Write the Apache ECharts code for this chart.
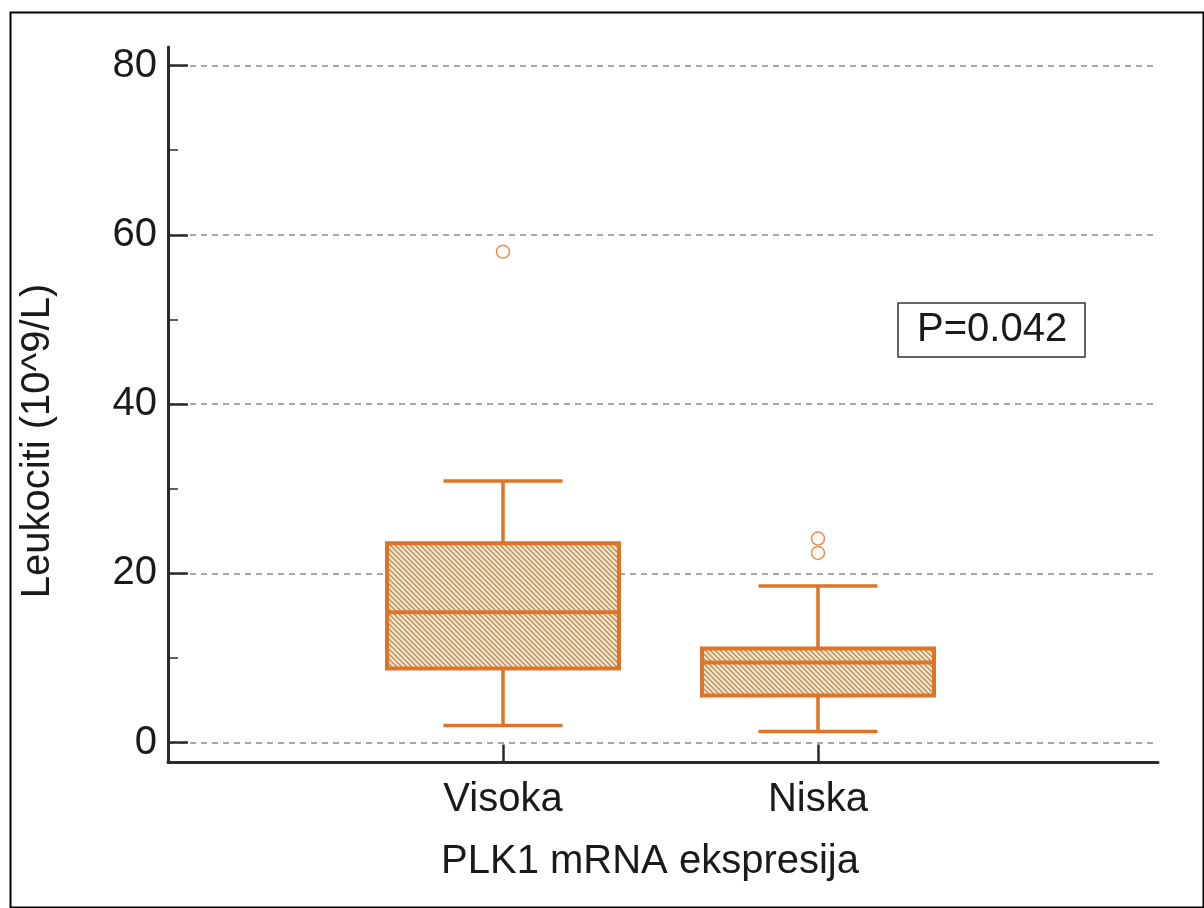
<!DOCTYPE html>
<html>
<head>
<meta charset="utf-8">
<script src="https://cdn.jsdelivr.net/npm/echarts@6/dist/echarts.min.js"></script>
<style>
html,body{margin:0;padding:0;background:#fff;}
#chart{width:1204px;height:908px;}
</style>
</head>
<body>
<div id="chart"></div>
<script>
// ---- data ----
const categories = ['Visoka', 'Niska'];
const catPos = [1, 2];
const whiskerLow = [2.0, 1.3];
const q1 = [8.75, 5.55];
const median = [15.4, 9.45];
const q3 = [23.55, 11.1];
const whiskerHigh = [30.9, 18.5];
const outlierCat = [1, 2, 2];
const outlierVal = [58.0, 24.1, 22.4];
const yMin = 0, yMax = 80, yInterval = 20;
const pText = 'P=0.042';
const xName = 'PLK1 mRNA ekspresija';
const yName = 'Leukociti (10^9/L)';

// ---- styles ----
const ORANGE = '#DD7428';
const AXIS = '#2b2b2b';
const FONT = 'Liberation Sans, Arial, sans-serif';

function hatchPattern() {
  const s = 5;
  const c = document.createElement('canvas');
  c.width = s; c.height = s;
  const ctx = c.getContext('2d');
  ctx.fillStyle = '#FBE6C6';
  ctx.fillRect(0, 0, s, s);
  ctx.strokeStyle = '#B08E68';
  ctx.lineWidth = 1.4;
  ctx.beginPath();
  ctx.moveTo(-1, -1); ctx.lineTo(s + 1, s + 1);
  ctx.moveTo(-1, s - 1); ctx.lineTo(1, s + 1);
  ctx.moveTo(s - 1, -1); ctx.lineTo(s + 1, 1);
  ctx.stroke();
  return c;
}
const pattern = { image: hatchPattern(), repeat: 'repeat' };

const boxData = categories.map((c, i) => [catPos[i], whiskerLow[i], q1[i], median[i], q3[i], whiskerHigh[i]]);
const outlierData = outlierCat.map((c, i) => [c, outlierVal[i]]);

const chart = echarts.init(document.getElementById('chart'), null, { renderer: 'canvas' });

const xMin = -0.0635, xMax = 3.0794;

const option = {
  backgroundColor: '#fff',
  animation: false,
  textStyle: { fontFamily: FONT },
  title: {
    text: pText,
    left: 898, top: 303,
    padding: [6, 18, 6, 19],
    borderColor: '#333', borderWidth: 1.5,
    textStyle: { fontFamily: FONT, fontSize: 40, fontWeight: 'normal', color: '#1a1a1a', lineHeight: 42 }
  },
  graphic: [{
    type: 'rect', left: 8, top: 10, z: 100,
    shape: { width: 1193, height: 895 },
    style: { fill: 'none', stroke: '#000', lineWidth: 2 }
  }],
  grid: [
    { left: 168, right: 46, top: 47, bottom: 146 },
    { left: 168, right: 46, top: 65.5, bottom: 165.5 }
  ],
  xAxis: [
    {
      gridIndex: 0, type: 'value', min: 0, max: 1, position: 'bottom',
      axisLine: { show: true, onZero: false, lineStyle: { color: AXIS, width: 3 } },
      axisTick: { show: false }, axisLabel: { show: false }, splitLine: { show: false }
    },
    {
      gridIndex: 1, type: 'value', min: xMin, max: xMax, offset: 20, position: 'bottom',
      axisLine: { show: false, onZero: false },
      axisTick: { show: true, inside: true, length: 18, customValues: catPos, lineStyle: { color: AXIS, width: 2.5 } },
      axisLabel: {
        show: true, customValues: catPos, margin: 17,
        fontSize: 40, color: '#1a1a1a', fontFamily: FONT,
        formatter: v => { const k = catPos.indexOf(v); return k >= 0 ? categories[k] : ''; }
      },
      splitLine: { show: false },
      name: xName, nameLocation: 'middle', nameGap: 79,
      nameTextStyle: { fontSize: 40, color: '#1a1a1a', fontFamily: FONT, padding: [0, 26, 0, 0] }
    }
  ],
  yAxis: [
    {
      gridIndex: 0, type: 'value', min: -2.3, max: 82.2, position: 'left',
      axisLine: { show: true, onZero: false, lineStyle: { color: AXIS, width: 3 } },
      axisTick: { show: false }, axisLabel: { show: false }, splitLine: { show: false }
    },
    {
      gridIndex: 1, type: 'value', min: yMin, max: yMax, interval: yInterval, position: 'left',
      axisLine: { show: false, onZero: false },
      axisTick: { show: true, inside: true, length: 20, lineStyle: { color: AXIS, width: 2.5 } },
      minorTick: { show: true, splitNumber: 2, length: 10, lineStyle: { color: AXIS, width: 1.5 } },
      axisLabel: { margin: 11, fontSize: 40, color: '#1a1a1a', fontFamily: FONT },
      splitLine: { show: true, lineStyle: { color: '#8a8a8a', width: 1.5, type: [6, 5] } },
      name: yName, nameLocation: 'middle', nameGap: 110,
      nameTextStyle: { fontSize: 40, color: '#1a1a1a', fontFamily: FONT, padding: [0, 74, 0, 0] }
    }
  ],
  series: [
    {
      type: 'custom',
      xAxisIndex: 1, yAxisIndex: 1,
      data: boxData,
      encode: { x: 0, y: [1, 2, 3, 4, 5] },
      z: 5,
      renderItem: function (params, api) {
        const x = api.value(0);
        const pLow = api.coord([x, api.value(1)]);
        const pQ1 = api.coord([x, api.value(2)]);
        const pMed = api.coord([x, api.value(3)]);
        const pQ3 = api.coord([x, api.value(4)]);
        const pHigh = api.coord([x, api.value(5)]);
        const cx = pLow[0];
        const hb = 116, hc = 59.5;
        const ls = { stroke: ORANGE, lineWidth: 3.5 };
        return {
          type: 'group',
          children: [
            { type: 'line', shape: { x1: cx, y1: pQ3[1], x2: cx, y2: pHigh[1] }, style: ls },
            { type: 'line', shape: { x1: cx, y1: pQ1[1], x2: cx, y2: pLow[1] }, style: ls },
            { type: 'line', shape: { x1: cx - hc, y1: pHigh[1], x2: cx + hc, y2: pHigh[1] }, style: ls },
            { type: 'line', shape: { x1: cx - hc, y1: pLow[1], x2: cx + hc, y2: pLow[1] }, style: ls },
            { type: 'rect', shape: { x: cx - hb, y: pQ3[1], width: 2 * hb, height: pQ1[1] - pQ3[1] },
              style: { fill: pattern, stroke: ORANGE, lineWidth: 4 } },
            { type: 'line', shape: { x1: cx - hb, y1: pMed[1], x2: cx + hb, y2: pMed[1] }, style: { stroke: ORANGE, lineWidth: 4 } }
          ]
        };
      }
    },
    {
      type: 'scatter',
      xAxisIndex: 1, yAxisIndex: 1,
      data: outlierData,
      symbol: 'circle', symbolSize: 13,
      itemStyle: { color: '#fffaf2', borderColor: ORANGE, borderWidth: 1.5 },
      z: 6
    }
  ]
};
chart.setOption(option);
</script>
</body>
</html>
